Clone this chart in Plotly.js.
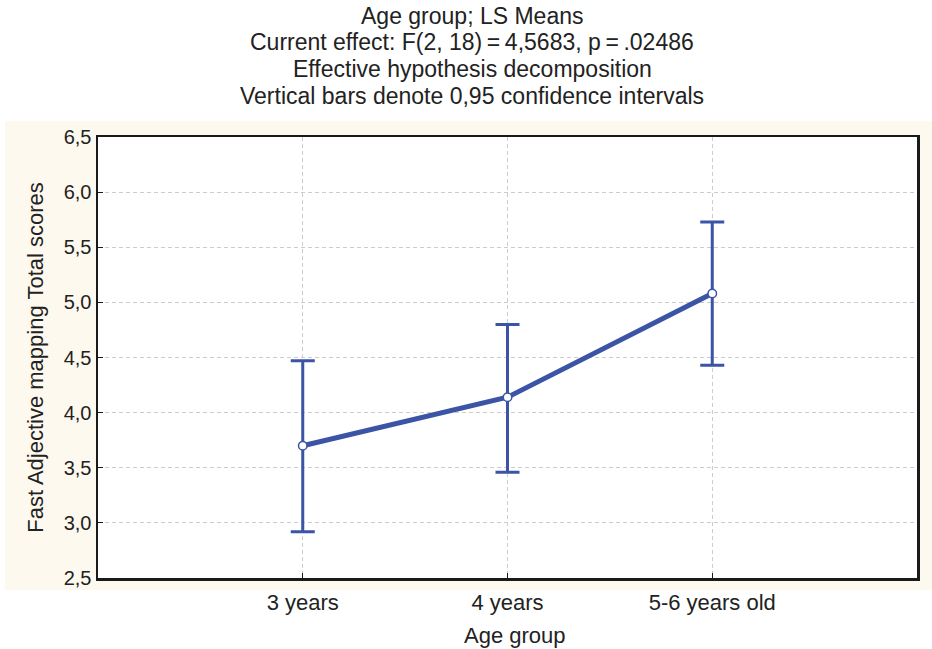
<!DOCTYPE html>
<html>
<head>
<meta charset="utf-8">
<script src="https://cdn.plot.ly/plotly-3.0.1.min.js"></script>
<style>html,body{margin:0;padding:0;background:#fff;}#chart{width:932px;height:649px;}</style>
</head>
<body>
<div id="chart"></div>
<script>
const categories = ["3 years", "4 years", "5-6 years old"];
const means = [3.70, 4.14, 5.08];
const ciLower = [2.92, 3.46, 4.43];
const ciUpper = [4.47, 4.80, 5.73];
const yTicks = [2.5, 3.0, 3.5, 4.0, 4.5, 5.0, 5.5, 6.0, 6.5];
const yTickLabels = ["2,5", "3,0", "3,5", "4,0", "4,5", "5,0", "5,5", "6,0", "6,5"];
const titleLines = [
  "Age group; LS Means",
  "Current effect: F(2, 18)\u2009=\u20094,5683, p\u2009=\u2009.02486",
  "Effective hypothesis decomposition",
  "Vertical bars denote 0,95 confidence intervals"
];
const xTitle = "Age group";
const yTitle = "Fast Adjective mapping Total scores";

const idx = categories.map((c, i) => i);
const blue = "#3b54a5";

const trace = {
  x: idx,
  y: means,
  type: "scatter",
  mode: "lines+markers",
  line: {color: blue, width: 5},
  marker: {color: "#ffffff", size: 8.5, line: {color: blue, width: 1.5}},
  error_y: {
    type: "data",
    symmetric: false,
    array: means.map((m, i) => ciUpper[i] - m),
    arrayminus: means.map((m, i) => m - ciLower[i]),
    color: blue,
    thickness: 3,
    width: 12
  },
  showlegend: false,
  cliponaxis: false
};

const font = {family: "Liberation Sans, Arial, sans-serif", color: "#222222"};
const titleY = [1.274, 1.2154, 1.154, 1.093];

const layout = {
  width: 932,
  height: 649,
  margin: {l: 98, r: 15, t: 137, b: 71},
  paper_bgcolor: "#ffffff",
  plot_bgcolor: "#ffffff",
  font: Object.assign({size: 18}, font),
  xaxis: {
    range: [-1, 3],
    tickvals: idx,
    ticktext: categories,
    showgrid: true,
    gridcolor: "#cccccc",
    griddash: "4px,3px",
    gridwidth: 1,
    zeroline: false,
    showline: true,
    linecolor: "#1a1a1a",
    linewidth: 2.5,
    mirror: true,
    ticks: "inside",
    ticklen: 5,
    tickcolor: "#1a1a1a",
    ticklabelstandoff: 3,
    tickfont: Object.assign({size: 22}, font)
  },
  yaxis: {
    range: [2.5, 6.5],
    tickvals: yTicks,
    ticktext: yTickLabels,
    showgrid: true,
    gridcolor: "#cccccc",
    griddash: "4px,3px",
    gridwidth: 1,
    zeroline: false,
    showline: true,
    linecolor: "#1a1a1a",
    linewidth: 2.5,
    mirror: true,
    ticks: "inside",
    ticklen: 5,
    tickcolor: "#1a1a1a",
    tickfont: Object.assign({size: 20}, font),
    title: {text: yTitle, font: Object.assign({size: 22}, font), standoff: 14}
  },
  annotations: titleLines.map((t, i) => ({
    text: t,
    xref: "paper", yref: "paper",
    x: 0.4567, y: titleY[i],
    xanchor: "center", yanchor: "middle",
    showarrow: false,
    font: Object.assign({size: 23}, font)
  })).concat([{
    text: xTitle,
    xref: "paper", yref: "paper",
    x: 0.509, y: -0.1315,
    xanchor: "center", yanchor: "middle",
    showarrow: false,
    font: Object.assign({size: 22}, font)
  }]),
  shapes: [{
    type: "rect",
    xref: "paper", yref: "paper",
    x0: -0.1136, x1: 1.02, y0: -0.0272, y1: 1.036,
    fillcolor: "#fdf9ef",
    line: {width: 0},
    layer: "below"
  }, {
    type: "rect",
    xref: "paper", yref: "paper",
    x0: 0, x1: 1, y0: 0, y1: 1,
    fillcolor: "#ffffff",
    line: {width: 0},
    layer: "below"
  }]
};

Plotly.newPlot("chart", [trace], layout, {displayModeBar: false, staticPlot: true});
</script>
</body>
</html>
